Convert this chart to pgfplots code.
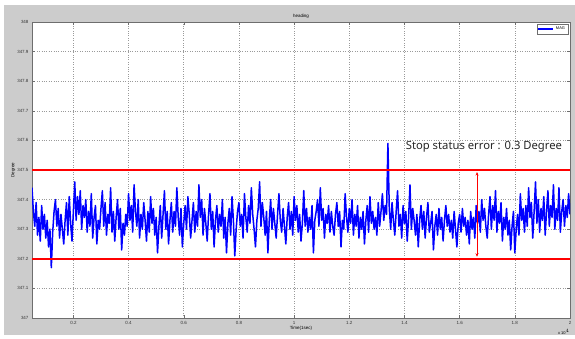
\documentclass[border=0pt]{standalone}
\usepackage{pgfplots}
\pgfplotsset{compat=1.18}
\usepackage{pgfplotstable}
\usepackage{fontspec}
\setmainfont{Liberation Sans}
\newfontfamily\notos{Noto Sans}
\usetikzlibrary{arrows.meta}
\definecolor{figgray}{RGB}{204,204,204}
\definecolor{axgray}{RGB}{110,110,110}
\pgfplotstableread[row sep=\\]{
y\\
347.44\\347.36\\347.31\\347.39\\347.28\\347.34\\347.26\\347.38\\347.30\\347.35\\
347.27\\347.33\\347.24\\347.30\\347.17\\347.29\\347.36\\347.40\\347.31\\347.37\\
347.27\\347.35\\347.30\\347.25\\347.33\\347.39\\347.28\\347.41\\347.32\\347.26\\
347.36\\347.46\\347.33\\347.41\\347.35\\347.43\\347.30\\347.38\\347.34\\347.40\\
347.29\\347.36\\347.31\\347.42\\347.27\\347.34\\347.38\\347.25\\347.33\\347.30\\
347.37\\347.43\\347.31\\347.39\\347.28\\347.35\\347.32\\347.44\\347.29\\347.36\\
347.26\\347.34\\347.40\\347.30\\347.37\\347.23\\347.32\\347.28\\347.35\\347.31\\
347.42\\347.33\\347.38\\347.29\\347.45\\347.36\\347.31\\347.40\\347.27\\347.35\\
347.30\\347.39\\347.33\\347.26\\347.36\\347.29\\347.41\\347.32\\347.37\\347.28\\
347.34\\347.22\\347.31\\347.38\\347.27\\347.35\\347.43\\347.30\\347.36\\347.25\\
347.33\\347.39\\347.29\\347.36\\347.31\\347.44\\347.34\\347.28\\347.37\\347.24\\
347.32\\347.38\\347.30\\347.41\\347.35\\347.27\\347.33\\347.39\\347.29\\347.36\\
347.31\\347.45\\347.34\\347.40\\347.28\\347.37\\347.32\\347.26\\347.35\\347.42\\
347.30\\347.36\\347.24\\347.33\\347.38\\347.29\\347.35\\347.31\\347.40\\347.27\\
347.34\\347.22\\347.32\\347.37\\347.28\\347.41\\347.33\\347.21\\347.30\\347.36\\
347.39\\347.31\\347.35\\347.27\\347.42\\347.34\\347.29\\347.38\\347.32\\347.44\\
347.35\\347.30\\347.24\\347.33\\347.37\\347.46\\347.31\\347.39\\347.34\\347.28\\
347.36\\347.22\\347.33\\347.40\\347.30\\347.37\\347.32\\347.27\\347.35\\347.42\\
347.33\\347.29\\347.37\\347.31\\347.25\\347.34\\347.39\\347.30\\347.36\\347.28\\
347.41\\347.33\\347.38\\347.29\\347.35\\347.26\\347.32\\347.43\\347.31\\347.37\\
347.29\\347.34\\347.30\\347.38\\347.22\\347.33\\347.36\\347.40\\347.31\\347.44\\
347.33\\347.37\\347.27\\347.35\\347.32\\347.38\\347.29\\347.36\\347.31\\347.28\\
347.35\\347.39\\347.31\\347.36\\347.24\\347.33\\347.30\\347.42\\347.34\\347.29\\
347.37\\347.32\\347.40\\347.28\\347.35\\347.31\\347.38\\347.27\\347.34\\347.30\\
347.36\\347.25\\347.33\\347.38\\347.29\\347.41\\347.32\\347.36\\347.30\\347.34\\
347.28\\347.39\\347.31\\347.36\\347.42\\347.33\\347.38\\347.35\\347.59\\347.37\\
347.30\\347.39\\347.33\\347.28\\347.36\\347.43\\347.31\\347.35\\347.27\\347.38\\
347.32\\347.36\\347.26\\347.34\\347.45\\347.30\\347.37\\347.33\\347.28\\347.35\\
347.24\\347.33\\347.38\\347.30\\347.36\\347.27\\347.34\\347.39\\347.29\\347.32\\
347.36\\347.23\\347.31\\347.35\\347.28\\347.37\\347.30\\347.34\\347.26\\347.33\\
347.38\\347.31\\347.35\\347.29\\347.33\\347.27\\347.36\\347.30\\347.24\\347.32\\
347.35\\347.29\\347.37\\347.31\\347.34\\347.28\\347.33\\347.25\\347.36\\347.30\\
347.34\\347.27\\347.38\\347.32\\347.36\\347.29\\347.40\\347.33\\347.37\\347.31\\
347.27\\347.35\\347.41\\347.30\\347.38\\347.33\\347.43\\347.29\\347.36\\347.32\\
347.39\\347.26\\347.34\\347.30\\347.37\\347.28\\347.33\\347.23\\347.31\\347.36\\
347.22\\347.30\\347.35\\347.28\\347.42\\347.33\\347.37\\347.29\\347.38\\347.31\\
347.44\\347.34\\347.39\\347.27\\347.36\\347.46\\347.32\\347.40\\347.29\\347.37\\
347.33\\347.41\\347.28\\347.36\\347.43\\347.31\\347.38\\347.34\\347.45\\347.30\\
347.37\\347.33\\347.44\\347.29\\347.36\\347.40\\347.31\\347.38\\347.34\\347.42\\347.35\\
}\magdata
\begin{document}
\begin{tikzpicture}
\fill[white] (0bp,0bp) rectangle (575bp,338bp);
\fill[figgray] (4bp,3bp) rectangle (575bp,333bp);
\begin{axis}[
  at={(32bp,20bp)}, anchor=south west,
  width=538bp, height=296bp, scale only axis,
  xmin=0.05, xmax=2, ymin=347, ymax=348,
  axis background/.style={fill=white},
  xtick={0.2,0.4,0.6,0.8,1,1.2,1.4,1.6,1.8,2},
  xticklabels={0.2,0.4,0.6,0.8,1,1.2,1.4,1.6,1.8,2},
  ytick={347,347.1,347.2,347.3,347.4,347.5,347.6,347.7,347.8,347.9,348},
  yticklabels={347,347.1,347.2,347.3,347.4,347.5,347.6,347.7,347.8,347.9,348},
  ticklabel style={font=\fontsize{4.5}{5}\selectfont, text=black!80},
  tick style={axgray, line width=0.4bp},
  major tick length=3bp,
  axis line style={axgray, line width=0.6bp},
  grid=major,
  major grid style={axgray!70, dotted, line width=0.5bp},
  title={heading},
  title style={font=\fontsize{4.5}{5}\selectfont, yshift=-6bp},
  xlabel={Time(1sec)},
  xlabel style={font=\fontsize{4.5}{5}\selectfont, yshift=5bp},
  ylabel={Degree},
  ylabel style={font=\fontsize{4.5}{5}\selectfont, yshift=-5bp},
  legend style={at={(1,1)}, anchor=north east, xshift=-2bp, yshift=-2bp,
    font=\fontsize{4}{5}\selectfont, draw=axgray, line width=0.4bp,
    inner sep=0.8bp, row sep=0pt},
  legend image code/.code={\draw[#1, line width=1.3bp] (0bp,0bp) -- (15bp,0bp);},
  clip=true,
]
\addplot[blue, line width=1.5bp, line join=round] table[x expr={0.05+0.005*\coordindex}, y=y] {\magdata};
\addlegendentry{MAG}
\addplot[red, line width=1.6bp, forget plot] coordinates {(0.05,347.5) (2,347.5)};
\addplot[red, line width=1.6bp, forget plot] coordinates {(0.05,347.2) (2,347.2)};
\addplot[red, line width=0.8bp, forget plot, {Stealth[length=3.5bp,width=3bp]}-{Stealth[length=3.5bp,width=3bp]}] coordinates {(1.663,347.207) (1.663,347.493)};
\node[font=\notos\fontsize{11.3}{13}\selectfont, text=black!85] at (axis cs:1.688,347.578) {Stop status error : 0.3 Degree};
\end{axis}
\node[font=\fontsize{4}{5}\selectfont, anchor=north east] at (573bp,12bp) {x 10$^{4}$};
\end{tikzpicture}
\end{document}
